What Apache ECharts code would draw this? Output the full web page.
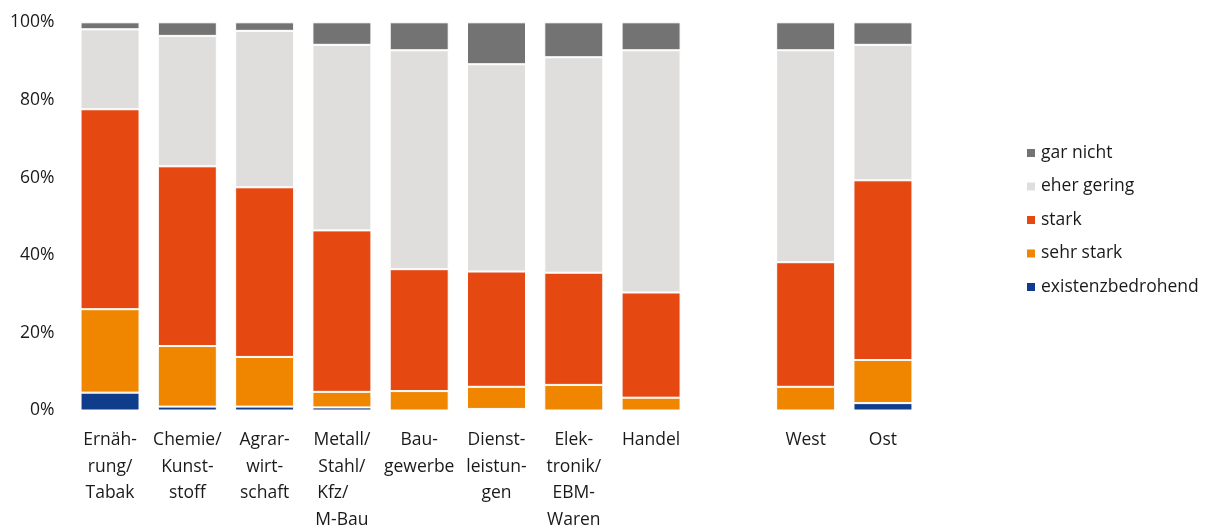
<!DOCTYPE html>
<html>
<head>
<meta charset="utf-8">
<script src="https://cdn.jsdelivr.net/npm/echarts@6/dist/echarts.min.js"></script>
<style>html,body{margin:0;padding:0;background:#fff}#c{width:1209px;height:527px}</style>
</head>
<body>
<div id="c"></div>
<script>
const categories = ['Ernäh-\nrung/\nTabak', 'Chemie/\nKunst-\nstoff', 'Agrar-\nwirt-\nschaft', 'Metall/\nStahl/\nKfz/\u00a0\u00a0\u00a0\u00a0\nM-Bau', 'Bau-\ngewerbe', 'Dienst-\nleistun-\ngen', 'Elek-\ntronik/\nEBM-\nWaren', 'Handel', '', 'West', 'Ost'];
const existenzbedrohend = [4.6, 1.0, 1.0, 0.8, 0, 0.4, 0, 0, null, 0, 1.9];
const sehrStark = [21.5, 15.6, 12.8, 4.0, 5.0, 5.7, 6.6, 3.3, null, 6.1, 11.1];
const stark = [51.5, 46.3, 43.7, 41.6, 31.4, 29.7, 28.9, 27.1, null, 32.1, 46.3];
const eherGering = [20.6, 33.6, 40.3, 47.8, 56.4, 53.4, 55.5, 62.4, null, 54.6, 34.9];
const garNicht = [1.8, 3.5, 2.2, 5.8, 7.2, 10.8, 9.0, 7.2, null, 7.2, 5.8];
const yTicks = [0, 20, 40, 60, 80, 100];

const font = 'Open Sans';
const txt = '#1a1a1a';
const fs = 17.5;
const mk = (name, data, color) => ({
  name, type: 'bar', stack: 'total', data, barWidth: 59,
  itemStyle: { color, borderColor: '#fff', borderWidth: 1 },
  emphasis: { disabled: true }
});
const chart = echarts.init(document.getElementById('c'));
chart.setOption({
  animation: false,
  textStyle: { fontFamily: font },
  grid: { left: 71.4, right: 287.4, top: 22.3, bottom: 116.5, outerBoundsMode: 'none', containLabel: false },
  legend: {
    orient: 'vertical', left: 1020, top: 139,
    itemWidth: 10, itemHeight: 10, itemGap: 15.5,
    icon: 'rect',
    data: ['gar nicht', 'eher gering', 'stark', 'sehr stark', 'existenzbedrohend'],
    textStyle: { fontFamily: font, fontSize: fs, color: txt, lineHeight: 18 }
  },
  xAxis: {
    type: 'category', data: categories,
    axisLine: { show: false }, axisTick: { show: false },
    axisLabel: { interval: 0, fontFamily: font, fontSize: fs, color: txt, lineHeight: 26.7, margin: 16 }
  },
  yAxis: {
    type: 'value', min: yTicks[0], max: yTicks[yTicks.length - 1], interval: 20,
    splitLine: { show: false }, axisLine: { show: false }, axisTick: { show: false },
    axisLabel: { formatter: '{value}%', fontFamily: font, fontSize: fs, color: txt, margin: 17 }
  },
  series: [
    mk('existenzbedrohend', existenzbedrohend, '#0f3d8c'),
    mk('sehr stark', sehrStark, '#f08500'),
    mk('stark', stark, '#e64812'),
    mk('eher gering', eherGering, '#dfdedd'),
    mk('gar nicht', garNicht, '#737373')
  ]
});
</script>
</body>
</html>
